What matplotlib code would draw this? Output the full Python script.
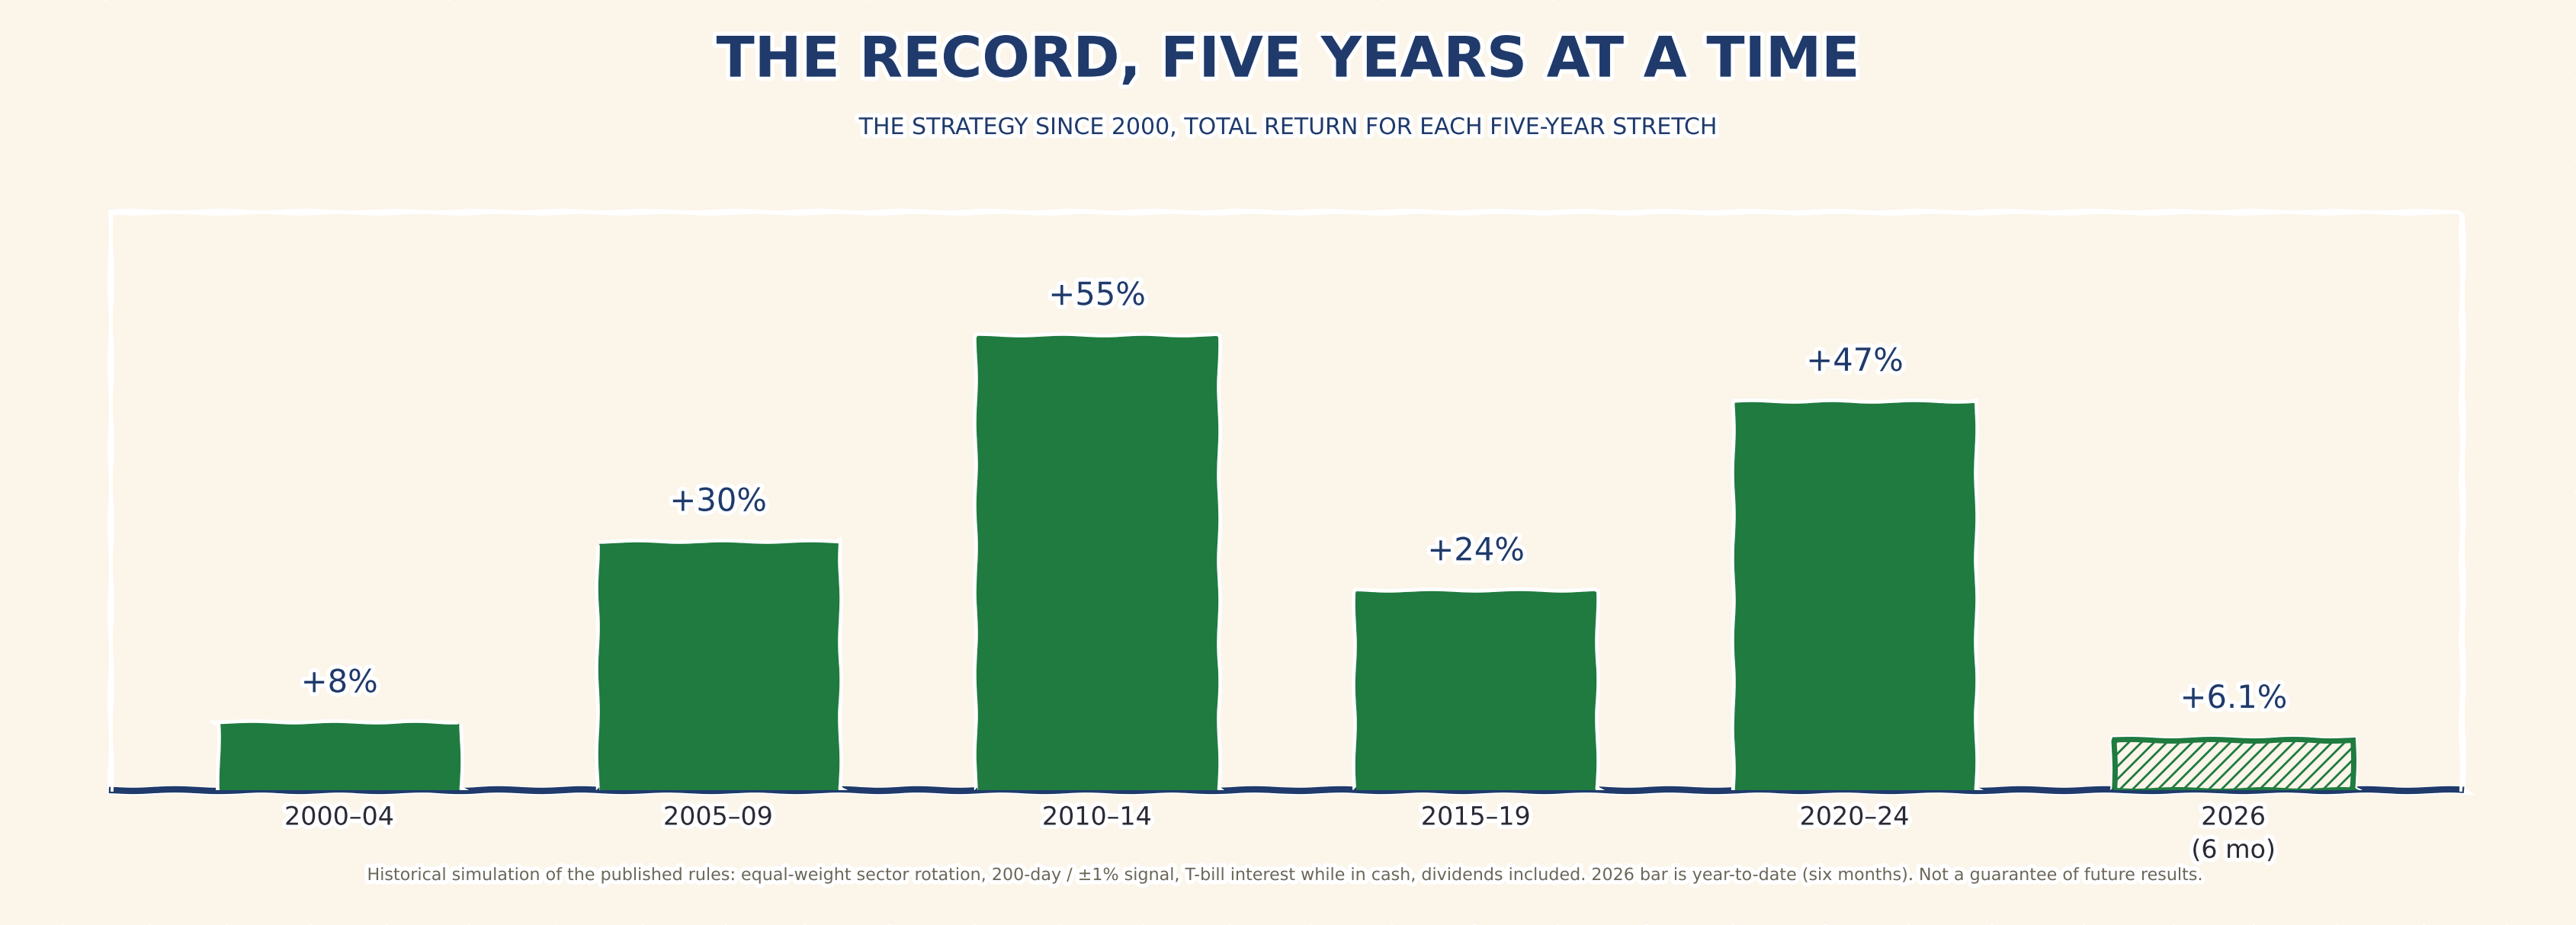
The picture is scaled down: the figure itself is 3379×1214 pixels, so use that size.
import matplotlib
matplotlib.use("Agg")
import matplotlib.pyplot as plt
from matplotlib import patheffects

BG = "#fbf5ea"
GREEN = "#1f7b3f"
NAVY = "#1f3a6b"
INK = "#2a2a35"
GREY = "#6b6658"

periods = ["2000–04", "2005–09", "2010–14", "2015–19", "2020–24", "2026\n(6 mo)"]
returns = [8, 30, 55, 24, 47, 6.1]
value_labels = ["+8%", "+30%", "+55%", "+24%", "+47%", "+6.1%"]
partial = [False, False, False, False, False, True]

TITLE = "THE RECORD, FIVE YEARS AT A TIME"
SUBTITLE = "THE STRATEGY SINCE 2000, TOTAL RETURN FOR EACH FIVE-YEAR STRETCH"
FOOTNOTE = ("Historical simulation of the published rules: equal-weight sector rotation, "
            "200-day / ±1% signal, T-bill interest while in cash, dividends included. "
            "2026 bar is year-to-date (six months). Not a guarantee of future results.")

with plt.xkcd(scale=1, length=120, randomness=2):
    plt.rcParams["font.family"] = ["DejaVu Sans"]
    fig = plt.figure(figsize=(3379 / 200, 1214 / 200), dpi=200, facecolor=BG)
    ax = fig.add_axes([0.0435, 0.1458, 0.9118, 0.6236], facecolor=BG)

    xs = list(range(len(periods)))
    for x, v, part in zip(xs, returns, partial):
        if part:
            ax.bar(x, v, width=0.63, facecolor=BG, edgecolor=GREEN,
                   linewidth=2.5, hatch="////", zorder=3)
        else:
            ax.bar(x, v, width=0.63, color=GREEN, edgecolor=GREEN,
                   linewidth=0.5, zorder=3)

    for x, v, lab in zip(xs, returns, value_labels):
        ax.text(x, v + 5, lab, ha="center", va="center", fontsize=15,
                color=NAVY, zorder=5)

    ax.axhline(0, color=NAVY, linewidth=3, zorder=2.5, clip_on=False)

    ax.set_xlim(-0.6, 5.6)
    ax.set_ylim(0, 70)
    ax.set_yticks([])
    ax.set_xticks(xs)
    ax.set_xticklabels(periods, fontsize=12, color=INK, linespacing=1.4)
    ax.tick_params(axis="x", length=0, pad=7)
    for side in ["left", "top", "right"]:
        ax.spines[side].set_color("white")
        ax.spines[side].set_linewidth(1.4)
        ax.spines[side].set_path_effects([])
    ax.spines["bottom"].set_visible(False)

    fig.text(0.5, 0.934, TITLE, ha="center", va="center", fontsize=26.5,
             fontweight="bold", color=NAVY)
    fig.text(0.5, 0.862, SUBTITLE, ha="center", va="center", fontsize=10.8,
             color=NAVY)
    fig.text(0.5, 0.0535, FOOTNOTE, ha="center", va="center", fontsize=8,
             color=GREY)

    fig.savefig("out.png", dpi=200, facecolor=BG)
